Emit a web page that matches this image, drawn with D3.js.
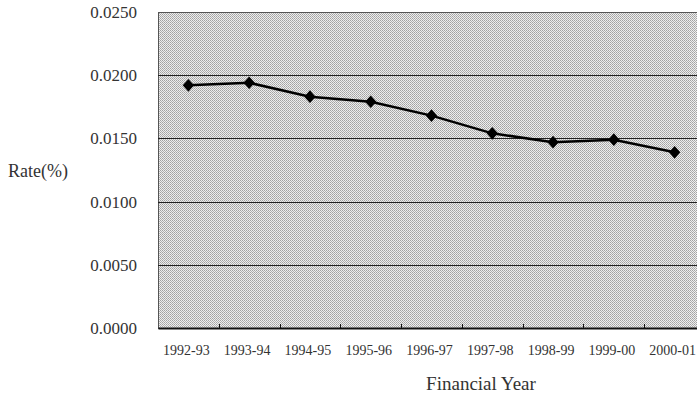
<!DOCTYPE html>
<html>
<head>
<meta charset="utf-8">
<script src="https://cdn.jsdelivr.net/npm/d3@7"></script>
<style>
    body { margin: 0; background: #fff; }
    svg { display: block; font-family: "Liberation Serif", "DejaVu Serif", serif; }
</style>
</head>
<body>
<div id="chart-container"></div>
<script>
const years = ["1992-93", "1993-94", "1994-95", "1995-96", "1996-97", "1997-98", "1998-99", "1999-00", "2000-01"];
const rates = [0.0192, 0.0194, 0.0183, 0.0179, 0.0168, 0.0154, 0.0147, 0.0149, 0.0139];
const yTicks = [0, 0.005, 0.01, 0.015, 0.02, 0.025];

const width = 697;
const height = 402;
const plotLeft = 158, plotTop = 12, plotBottom = 328;
const plotRight = 705; // plot runs past the page edge

const svg = d3.select("#chart-container")
    .append("svg")
    .attr("width", width)
    .attr("height", height);

// halftone grey fill
const pat = svg.append("defs").append("pattern")
    .attr("id", "dots")
    .attr("width", 2)
    .attr("height", 2)
    .attr("patternUnits", "userSpaceOnUse");
pat.append("rect").attr("width", 2).attr("height", 2).attr("fill", "#eeeeee");
pat.append("rect").attr("width", 1).attr("height", 1).attr("fill", "#a2a2a2");
pat.append("rect").attr("x", 1).attr("y", 1).attr("width", 1).attr("height", 1).attr("fill", "#b2b2b2");

const x = d3.scaleBand()
    .domain(years)
    .range([plotLeft, plotRight]);

const y = d3.scaleLinear()
    .domain([0, 0.025])
    .range([plotBottom, plotTop]);

svg.append("rect")
    .attr("x", plotLeft)
    .attr("y", plotTop)
    .attr("width", plotRight - plotLeft)
    .attr("height", plotBottom - plotTop)
    .attr("fill", "url(#dots)")
    .attr("stroke", "#555")
    .attr("stroke-width", 1)
    .attr("shape-rendering", "crispEdges");

// gridlines
svg.append("g")
    .selectAll("line")
    .data(yTicks.slice(1, -1))
    .enter()
    .append("line")
    .attr("x1", plotLeft)
    .attr("x2", plotRight)
    .attr("y1", d => Math.round(y(d)) + 0.5)
    .attr("y2", d => Math.round(y(d)) + 0.5)
    .attr("stroke", "#222")
    .attr("stroke-width", 1);

// y labels
svg.append("g")
    .selectAll("text")
    .data(yTicks)
    .enter()
    .append("text")
    .attr("x", 137)
    .attr("y", d => y(d))
    .attr("dy", "0.35em")
    .attr("text-anchor", "end")
    .style("font-size", "17px")
    .attr("fill", "#333")
    .text(d3.format(".4f"));

// bottom axis
const xAxis = svg.append("g")
    .attr("transform", `translate(0,${plotBottom})`)
    .call(d3.axisBottom(x).tickSize(0).tickPadding(17));
xAxis.select(".domain").attr("stroke", "#111").attr("stroke-width", 2);
xAxis.selectAll("text")
    .attr("dx", "-2")
    .style("font-size", "14px")
    .style("font-family", "Liberation Serif")
    .attr("fill", "#333");

// small inward ticks at category edges
svg.append("g")
    .selectAll("line")
    .data(years.slice(1))
    .enter()
    .append("line")
    .attr("x1", d => Math.round(x(d)) + 0.5)
    .attr("x2", d => Math.round(x(d)) + 0.5)
    .attr("y1", plotBottom)
    .attr("y2", plotBottom - 4)
    .attr("stroke", "#111");

// the series
const line = d3.line()
    .x((d, i) => x(years[i]) + x.bandwidth() / 2)
    .y(d => y(d));

svg.append("path")
    .datum(rates)
    .attr("d", line)
    .attr("fill", "none")
    .attr("stroke", "#000")
    .attr("stroke-width", 2.5);

svg.append("g")
    .selectAll("path")
    .data(rates)
    .enter()
    .append("path")
    .attr("d", d3.symbol().type(d3.symbolSquare).size(64))
    .attr("transform", (d, i) => `translate(${x(years[i]) + x.bandwidth() / 2},${y(d)}) scale(1,1.12) rotate(45)`)
    .attr("fill", "#000");

// axis titles
svg.append("text")
    .attr("x", 38)
    .attr("y", 171)
    .attr("dy", "0.35em")
    .attr("text-anchor", "middle")
    .style("font-size", "18px")
    .attr("fill", "#333")
    .text("Rate(%)");

svg.append("text")
    .attr("x", 481)
    .attr("y", 383)
    .attr("dy", "0.35em")
    .attr("text-anchor", "middle")
    .style("font-size", "19px")
    .attr("fill", "#333")
    .text("Financial Year");
</script>
</body>
</html>
